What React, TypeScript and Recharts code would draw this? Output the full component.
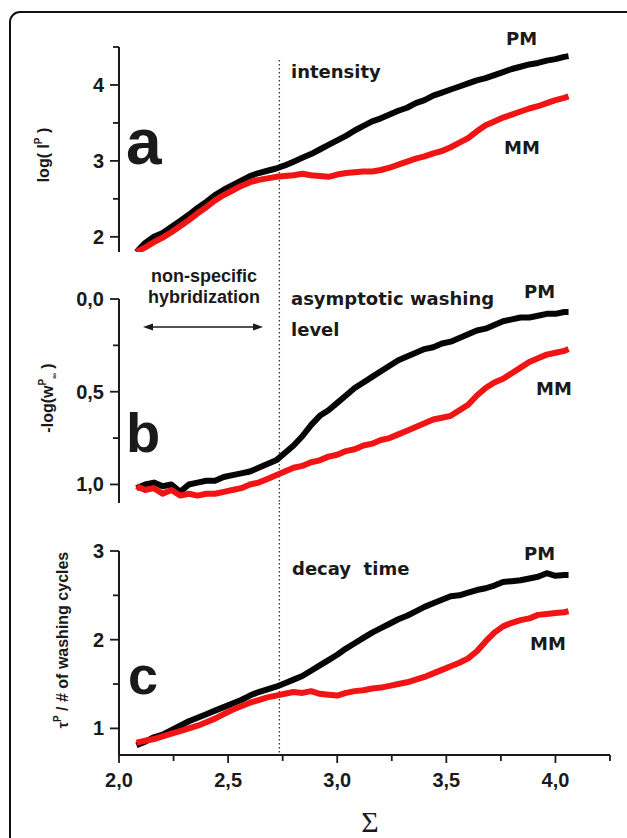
import React from 'react';
import { LineChart, Line, XAxis, YAxis, ReferenceLine } from 'recharts';

// Σ (x position) shared by all three panels
const sigma = [
  2.08, 2.12, 2.16, 2.2, 2.24, 2.28, 2.32, 2.36, 2.4, 2.44,
  2.48, 2.52, 2.56, 2.6, 2.64, 2.68, 2.72, 2.76, 2.8, 2.84,
  2.88, 2.92, 2.96, 3.0, 3.04, 3.08, 3.12, 3.16, 3.2, 3.24,
  3.28, 3.32, 3.36, 3.4, 3.44, 3.48, 3.52, 3.56, 3.6, 3.64,
  3.68, 3.72, 3.76, 3.8, 3.84, 3.88, 3.92, 3.96, 4.0, 4.04, 4.06,
];

// panel a: log(I^P)
const pmIntensity = [
  1.8, 1.92, 2.0, 2.05, 2.13, 2.21, 2.29, 2.38, 2.46, 2.55,
  2.62, 2.68, 2.74, 2.8, 2.84, 2.87, 2.9, 2.94, 2.99, 3.04,
  3.09, 3.15, 3.21, 3.27, 3.33, 3.4, 3.46, 3.52, 3.56, 3.61,
  3.66, 3.7, 3.76, 3.8, 3.86, 3.9, 3.94, 3.98, 4.02, 4.06,
  4.09, 4.13, 4.17, 4.21, 4.24, 4.27, 4.29, 4.32, 4.34, 4.37, 4.38,
];
const mmIntensity = [
  1.8, 1.86, 1.93, 1.99, 2.06, 2.14, 2.22, 2.31, 2.39, 2.48,
  2.55, 2.61, 2.67, 2.72, 2.75, 2.77, 2.79, 2.8, 2.81, 2.83,
  2.81, 2.8, 2.79, 2.82, 2.84, 2.85, 2.86, 2.86, 2.88, 2.91,
  2.95, 2.99, 3.03, 3.06, 3.1, 3.13, 3.18, 3.24, 3.3, 3.39,
  3.47, 3.52, 3.57, 3.61, 3.65, 3.69, 3.72, 3.76, 3.8, 3.83, 3.85,
];

// panel b: -log(w^P_inf)
const pmWashing = [
  1.02, 1.0, 0.99, 1.01, 1.0, 1.04, 1.0, 0.99, 0.98, 0.98,
  0.96, 0.95, 0.94, 0.93, 0.91, 0.89, 0.87, 0.83, 0.79, 0.74,
  0.68, 0.63, 0.6, 0.56, 0.52, 0.48, 0.45, 0.42, 0.39, 0.36,
  0.33, 0.31, 0.29, 0.27, 0.26, 0.24, 0.23, 0.21, 0.19, 0.17,
  0.16, 0.14, 0.12, 0.11, 0.1, 0.1, 0.09, 0.08, 0.08, 0.07, 0.07,
];
const mmWashing = [
  1.01, 1.03, 1.02, 1.05, 1.03, 1.06, 1.05, 1.06, 1.05, 1.05,
  1.04, 1.03, 1.02, 1.0, 0.99, 0.97, 0.95, 0.93, 0.91, 0.9,
  0.88, 0.87, 0.85, 0.84, 0.82, 0.81, 0.79, 0.78, 0.76, 0.75,
  0.73, 0.71, 0.69, 0.67, 0.65, 0.64, 0.63, 0.6, 0.57, 0.52,
  0.48, 0.45, 0.43, 0.4, 0.37, 0.34, 0.32, 0.3, 0.29, 0.28, 0.27,
];

// panel c: tau^P / # of washing cycles
const pmDecay = [
  0.81, 0.85, 0.9, 0.93, 0.98, 1.03, 1.08, 1.12, 1.16, 1.2,
  1.24, 1.28, 1.32, 1.37, 1.41, 1.44, 1.47, 1.51, 1.55, 1.59,
  1.65, 1.71, 1.77, 1.83, 1.9, 1.96, 2.02, 2.08, 2.13, 2.18,
  2.23, 2.27, 2.32, 2.37, 2.41, 2.45, 2.49, 2.5, 2.53, 2.56,
  2.58, 2.61, 2.65, 2.66, 2.67, 2.69, 2.71, 2.75, 2.72, 2.73, 2.73,
];
const mmDecay = [
  0.84, 0.86, 0.88, 0.91, 0.94, 0.97, 1.0, 1.03, 1.07, 1.11,
  1.16, 1.21, 1.25, 1.29, 1.32, 1.35, 1.37, 1.39, 1.41, 1.4,
  1.42, 1.39, 1.38, 1.37, 1.4, 1.42, 1.43, 1.45, 1.46, 1.48,
  1.5, 1.52, 1.55, 1.58, 1.62, 1.66, 1.7, 1.74, 1.79, 1.87,
  1.98, 2.08, 2.15, 2.19, 2.22, 2.24, 2.28, 2.29, 2.3, 2.31, 2.32,
];

const xTicks = [2, 2.25, 2.5, 2.75, 3, 3.25, 3.5, 3.75, 4, 4.25];
const xMajor = [2, 2.5, 3, 3.5, 4];
const aTicks = [2, 2.5, 3, 3.5, 4, 4.5];
const aMajor = [2, 3, 4];
const bTicks = [0, 0.25, 0.5, 0.75, 1];
const bMajor = [0, 0.5, 1];
const cTicks = [1, 1.5, 2, 2.5, 3];
const cMajor = [1, 2, 3];
const divider = 2.735;

const W = 627;
const INK = '#1a1a1a';
const RED = '#f01414';
const tickFont = { fontFamily: '"Liberation Sans", Arial, sans-serif', fontWeight: 700, fontSize: 20, fill: INK };
const noteFont = { fontFamily: '"DejaVu Sans", sans-serif', fontWeight: 700, fontSize: 18, fill: INK };
const arial = { fontFamily: '"Liberation Sans", Arial, sans-serif', fontWeight: 700, fill: INK };

const comma = (v: number) => v.toFixed(1).replace('.', ',');
const whole = (v: number) => String(v);

const makeYTick = (major: number[], fmt: (v: number) => string) => (props: any) => {
  const { x, y, payload } = props;
  const isMajor = major.includes(payload.value);
  return (
    <g>
      <line x1={x - (isMajor ? 9 : 6)} x2={x} y1={y} y2={y} stroke={INK} strokeWidth={1.8} />
      {isMajor && (
        <text x={x - 15} y={y} dy={7} textAnchor="end" {...tickFont}>
          {fmt(payload.value)}
        </text>
      )}
    </g>
  );
};

const XTick = (props: any) => {
  const { x, y, payload } = props;
  const isMajor = xMajor.includes(payload.value);
  return (
    <g>
      <line x1={x} x2={x} y1={y} y2={y + (isMajor ? 8 : 6)} stroke={INK} strokeWidth={1.8} />
      {isMajor && (
        <text x={x} y={y + 32} textAnchor="middle" {...tickFont}>
          {comma(payload.value)}
        </text>
      )}
    </g>
  );
};

interface PanelProps {
  top: number;
  height: number;
  mt: number;
  mb: number;
  pm: number[];
  mm: number[];
  domain: [number, number];
  ticks: number[];
  major: number[];
  fmt: (v: number) => string;
  reversed?: boolean;
  showX?: boolean;
  refTop: number;
  refBottom: number;
}

const Panel: React.FC<PanelProps> = ({
  top, height, mt, mb, pm, mm, domain, ticks, major, fmt, reversed, showX, refTop, refBottom,
}) => {
  const data = sigma.map((s, i) => ({ s, pm: pm[i], mm: mm[i] }));
  return (
    <div style={{ position: 'absolute', left: 0, top, width: W, height }}>
      <LineChart width={W} height={height} data={data} margin={{ top: mt, right: 17, bottom: mb, left: 0 }}>
        <XAxis
          type="number"
          dataKey="s"
          domain={[2, 4.25]}
          ticks={xTicks}
          interval={0}
          hide={!showX}
          height={83}
          allowDataOverflow
          axisLine={{ stroke: INK, strokeWidth: 2 }}
          tickLine={false}
          tickSize={0}
          tickMargin={0}
          tick={<XTick />}
        />
        <YAxis
          type="number"
          domain={domain}
          ticks={ticks}
          interval={0}
          reversed={reversed}
          width={119}
          allowDataOverflow
          axisLine={{ stroke: INK, strokeWidth: 2 }}
          tickLine={false}
          tickSize={0}
          tickMargin={0}
          tick={makeYTick(major, fmt)}
        />
        <ReferenceLine
          segment={[{ x: divider, y: refTop }, { x: divider, y: refBottom }]}
          ifOverflow="visible"
          stroke="#333"
          strokeWidth={1.3}
          strokeDasharray="1.5 2.5"
        />
        <Line
          type="linear"
          dataKey="pm"
          stroke="#050505"
          strokeWidth={6}
          strokeLinejoin="round"
          dot={false}
          isAnimationActive={false}
        />
        <Line
          type="linear"
          dataKey="mm"
          stroke={RED}
          strokeWidth={6}
          strokeLinejoin="round"
          dot={false}
          isAnimationActive={false}
        />
      </LineChart>
    </div>
  );
};

export default function App() {
  return (
    <div style={{ position: 'absolute', left: 0, top: 0, width: W, height: 838, overflow: 'hidden', background: '#fff' }}>
      <div
        style={{
          position: 'absolute', left: 9, top: 11, width: 660, height: 880,
          border: '2px solid #111', borderRadius: 11, boxSizing: 'border-box',
        }}
      />
      <Panel top={0} height={270} mt={47} mb={18} pm={pmIntensity} mm={mmIntensity}
        domain={[1.8, 4.5]} ticks={aTicks} major={aMajor} fmt={whole} refTop={4.33} refBottom={1.8} />
      <Panel top={252} height={270} mt={47} mb={19} pm={pmWashing} mm={mmWashing}
        domain={[0, 1.1]} ticks={bTicks} major={bMajor} fmt={comma} reversed refTop={-0.253} refBottom={1.1} />
      <Panel top={503} height={335} mt={48} mb={0} pm={pmDecay} mm={mmDecay}
        domain={[0.7, 3]} ticks={cTicks} major={cMajor} fmt={whole} showX refTop={3.54} refBottom={0.7} />

      <svg width={W} height={838} style={{ position: 'absolute', left: 0, top: 0, pointerEvents: 'none' }}>
        {/* panel letters */}
        <text x={126} y={164} fontSize={64} {...arial}>a</text>
        <text x={126} y={452} fontSize={56} {...arial}>b</text>
        <text x={128} y={694} fontSize={54} {...arial}>c</text>

        {/* y-axis titles */}
        <text transform="translate(49,155) rotate(-90)" textAnchor="middle" fontSize={16} {...arial}>
          log( I<tspan dy={-7} fontSize={10}>P</tspan><tspan dy={7}> )</tspan>
        </text>
        <text transform="translate(53,398) rotate(-90)" textAnchor="middle" fontSize={16} {...arial}>
          -log(w<tspan dy={-7} fontSize={10}>P</tspan><tspan dy={11} fontSize={8}>∞</tspan><tspan dy={-4}> )</tspan>
        </text>
        <text transform="translate(68,640) rotate(-90)" textAnchor="middle" fontSize={16} {...arial}>
          <tspan fontSize={14}>τ</tspan><tspan dy={-7} fontSize={10}>P</tspan><tspan dy={7}> / # of washing cycles</tspan>
        </text>

        {/* annotations */}
        <text x={291} y={78} {...noteFont}>intensity</text>
        <text x={506} y={45} {...noteFont}>PM</text>
        <text x={504} y={154} {...noteFont}>MM</text>

        <text x={204} y={282} textAnchor="middle" fontSize={18} {...arial}>non-specific</text>
        <text x={204} y={303} textAnchor="middle" fontSize={18} {...arial}>hybridization</text>
        <line x1={150} x2={256} y1={327} y2={327} stroke={INK} strokeWidth={1.5} />
        <polygon points="143,327 153,323.5 153,330.5" fill={INK} />
        <polygon points="263,327 253,323.5 253,330.5" fill={INK} />

        <text x={291} y={305} {...noteFont}>asymptotic washing</text>
        <text x={291} y={336} {...noteFont}>level</text>
        <text x={524} y={298} {...noteFont}>PM</text>
        <text x={536} y={395} {...noteFont}>MM</text>

        <text x={292} y={575} style={{ whiteSpace: 'pre' }} {...noteFont}>decay  time</text>
        <text x={524} y={560} {...noteFont}>PM</text>
        <text x={530} y={650} {...noteFont}>MM</text>

        {/* x-axis title */}
        <text x={370} y={832} textAnchor="middle" fontSize={30} fontFamily='"Liberation Serif", serif' fill={INK}>Σ</text>
      </svg>
    </div>
  );
}
